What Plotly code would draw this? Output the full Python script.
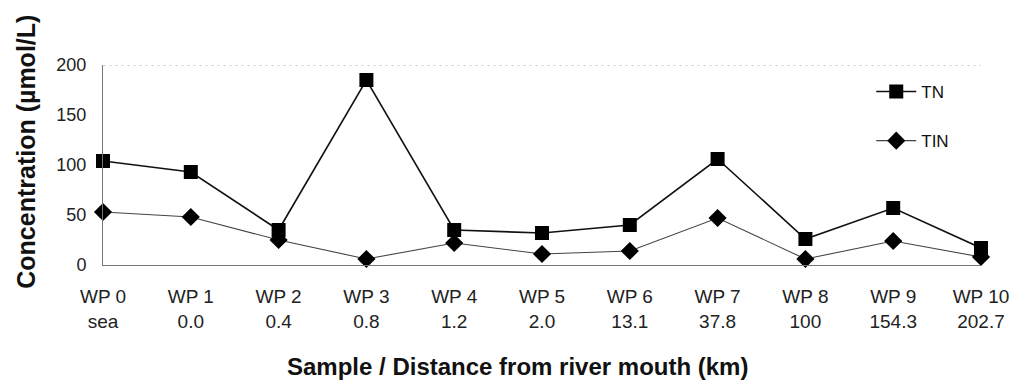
import plotly.graph_objects as go

samples = ["WP 0", "WP 1", "WP 2", "WP 3", "WP 4", "WP 5", "WP 6", "WP 7", "WP 8", "WP 9", "WP 10"]
distances = ["sea", "0.0", "0.4", "0.8", "1.2", "2.0", "13.1", "37.8", "100", "154.3", "202.7"]
tn = [104, 93, 35, 185, 35, 32, 40, 106, 26, 57, 17]
tin = [53, 48, 25, 6, 22, 11, 14, 47, 6, 24, 8]

x = list(range(len(samples)))
FONT = "Liberation Sans, Arial, sans-serif"

fig = go.Figure()
fig.add_trace(go.Scatter(
    x=x, y=tn, name="TN", mode="lines+markers", cliponaxis=False,
    line=dict(color="#111111", width=1.6),
    marker=dict(symbol="square", size=14, color="#000000"),
    legendgroup="a",
))
fig.add_trace(go.Scatter(
    x=x, y=tin, name="TIN", mode="lines+markers", cliponaxis=False,
    line=dict(color="#444444", width=1.1),
    marker=dict(symbol="diamond", size=14, color="#000000"),
    legendgroup="b",
))
# invisible trace to carry the second row of x tick labels
fig.add_trace(go.Scatter(x=x, y=[None] * len(x), xaxis="x2", showlegend=False,
                         hoverinfo="skip"))

fig.update_layout(
    width=1021, height=384,
    margin=dict(l=103, r=30, t=65, b=119),
    paper_bgcolor="white", plot_bgcolor="white",
    font=dict(family=FONT, color="#222222"),
    showlegend=True,
    legend=dict(x=0.875, y=0.955, xanchor="left", yanchor="top",
                font=dict(size=17, family=FONT, color="#111111"),
                bgcolor="rgba(0,0,0,0)", tracegroupgap=24, itemwidth=40),
    xaxis=dict(range=[0, 10], tickvals=x, ticktext=samples,
               showline=True, linecolor="#777777", linewidth=1,
               showgrid=False, zeroline=False, ticks="",
               tickfont=dict(size=19, family=FONT, color="#222222"),
               ticklabelstandoff=14),
    xaxis2=dict(range=[0, 10], tickvals=x, ticktext=distances,
                overlaying="x", side="bottom", anchor="y",
                showline=False, showgrid=False, zeroline=False, ticks="",
                tickfont=dict(size=19, family=FONT, color="#222222"),
                ticklabelstandoff=43),
    yaxis=dict(range=[0, 200], tickvals=[0, 50, 100, 150, 200],
               showline=True, linecolor="#777777", linewidth=1,
               showgrid=False, zeroline=False, ticks="",
               tickfont=dict(size=18, family=FONT, color="#222222"),
               ticklabelstandoff=12),
    annotations=[
        dict(text="<b>Concentration (µmol/L)</b>", xref="paper", yref="paper",
             x=-0.088, y=0.565, textangle=-90, showarrow=False,
             xanchor="center", yanchor="middle",
             font=dict(size=25, family=FONT, color="#111111")),
        dict(text="<b>Sample / Distance from river mouth (km)</b>", xref="paper", yref="paper",
             x=0.4724, y=-0.505, showarrow=False, xanchor="center", yanchor="middle",
             font=dict(size=24, family=FONT, color="#111111")),
    ],
    shapes=[dict(type="line", xref="paper", yref="y", x0=0, x1=1, y0=200, y1=200,
                 line=dict(color="#bbbbbb", width=1, dash="dot"))],
)

fig.write_html("out.html")
